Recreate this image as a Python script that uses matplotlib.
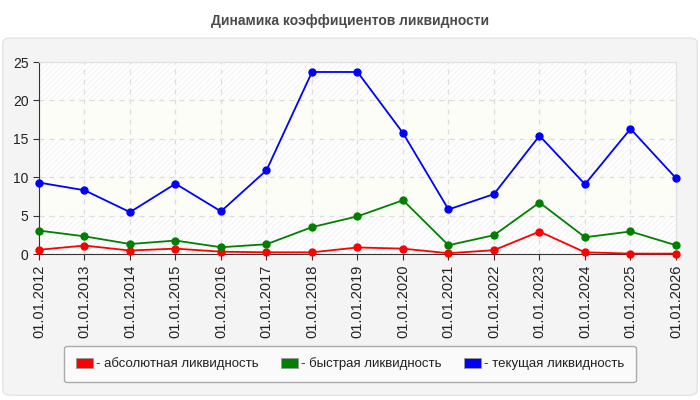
import matplotlib
matplotlib.use("Agg")
import matplotlib.pyplot as plt
from matplotlib.patches import FancyBboxPatch
from matplotlib.patches import Patch

plt.rcParams['font.family'] = ['Liberation Sans', 'DejaVu Sans']
plt.rcParams['hatch.linewidth'] = 0.6

dates = ["01.01.2012", "01.01.2013", "01.01.2014", "01.01.2015", "01.01.2016",
         "01.01.2017", "01.01.2018", "01.01.2019", "01.01.2020", "01.01.2021",
         "01.01.2022", "01.01.2023", "01.01.2024", "01.01.2025", "01.01.2026"]
absolute = [0.55, 1.1, 0.45, 0.7, 0.3, 0.22, 0.22, 0.85, 0.7, 0.1, 0.5, 2.92, 0.22, 0.05, 0.05]
quick = [3.05, 2.3, 1.3, 1.75, 0.88, 1.27, 3.5, 4.9, 7.0, 1.14, 2.45, 6.7, 2.18, 2.93, 1.14]
current = [9.3, 8.3, 5.45, 9.15, 5.55, 10.9, 23.7, 23.7, 15.75, 5.8, 7.8, 15.4, 9.08, 16.3, 9.87]

series_labels = ["- абсолютная ликвидность", "- быстрая ликвидность", "- текущая ликвидность"]
colors = ["#ff0000", "#008000", "#0000ff"]
title = "Динамика коэффициентов ликвидности"

fig = plt.figure(figsize=(7, 4), dpi=100)
fig.patch.set_facecolor("white")

panel = FancyBboxPatch((0.004, 0.012), 0.992, 0.893, boxstyle="round,pad=0,rounding_size=0.012",
                       transform=fig.transFigure, facecolor="#f4f4f4", edgecolor="#e4e4e4",
                       linewidth=1, zorder=-10)
fig.patches.append(panel)

fig.text(0.5, 0.948, title, ha="center", va="center", fontsize=10, fontweight="bold",
         color="#4a4a4a")

ax = fig.add_axes([0.0557, 0.365, 0.91, 0.48])
ax.set_facecolor("#ffffff")
x = list(range(len(dates)))

for i, lo in enumerate(range(0, 25, 5)):
    if i % 2 == 0:
        ax.axhspan(lo, lo + 5, facecolor="#ffffff", edgecolor="#f0f0f0", hatch="//////",
                   linewidth=0, zorder=0)
    else:
        ax.axhspan(lo, lo + 5, facecolor="#fdfdf7", edgecolor="none", linewidth=0, zorder=0)

for vals, c in zip([absolute, quick, current], colors):
    ax.plot(x, vals, color=c, linewidth=1.3, marker="o", markersize=5, zorder=3, clip_on=False)

ax.set_xlim(0, len(dates) - 1)
ax.set_ylim(0, 25)
ax.set_yticks([0, 5, 10, 15, 20, 25])
ax.set_xticks(x)
ax.set_xticklabels(dates, rotation=90, fontsize=10.5, color="#222222")
ax.tick_params(axis="y", labelsize=10, labelcolor="#222222", length=4, color="#333333")
ax.tick_params(axis="x", length=4, color="#333333")
ax.grid(True, color="#dddddd", linestyle=(0, (4, 4)), linewidth=0.9, zorder=1)
ax.set_axisbelow(True)
for s in ["top", "right"]:
    ax.spines[s].set_color("#e0e0e0")
for s in ["left", "bottom"]:
    ax.spines[s].set_color("#333333")

handles = [Patch(facecolor=c, edgecolor="#999999", linewidth=0.6) for c in colors]
leg = fig.legend(handles, series_labels, loc="center", bbox_to_anchor=(0.5, 0.09),
                 ncol=3, frameon=True, fontsize=9.5, handlelength=1.3, handleheight=0.8,
                 handletextpad=0.2, columnspacing=1.7, borderpad=0.9, fancybox=True)
frame = leg.get_frame()
frame.set_facecolor("#fafafa")
frame.set_edgecolor("#aaaaaa")
frame.set_alpha(1)
for t in leg.get_texts():
    t.set_color("#222222")

fig.savefig("out.png", dpi=100)
